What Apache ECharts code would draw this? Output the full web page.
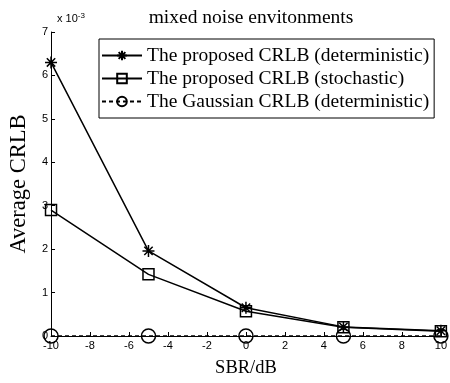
<!DOCTYPE html>
<html>
<head>
<meta charset="utf-8">
<script src="https://cdn.jsdelivr.net/npm/echarts@6/dist/echarts.min.js"></script>
<style>html,body{margin:0;padding:0;background:#fff;}#c{width:450px;height:383px;}</style>
</head>
<body>
<div id="c"></div>
<script>
// SBR in dB
const sbr = [-10, -5, 0, 5, 10];
// Average CRLB values, in units of 1e-3
const proposedDet = [6.3, 1.96, 0.65, 0.21, 0.12];
const proposedSto = [2.9, 1.42, 0.57, 0.20, 0.11];
const gaussianDet = [0.0, 0.0, 0.0, 0.0, 0.0];
const seriesNames = [
  'The proposed CRLB (deterministic)',
  'The proposed CRLB (stochastic)',
  'The Gaussian CRLB (deterministic)'
];
const xTicks = [-10, -8, -6, -4, -2, 0, 2, 4, 6, 8, 10];
const yTicks = [0, 1, 2, 3, 4, 5, 6, 7];

const pair = (ys) => sbr.map((x, i) => [x, ys[i]]);
const star = 'path://M0,-6L0,6M-6,0L6,0M-4.2,-4.2L4.2,4.2M-4.2,4.2L4.2,-4.2';
const serif = '"Liberation Serif","Times New Roman",serif';
const sans = '"Liberation Sans",Arial,sans-serif';

const chart = echarts.init(document.getElementById('c'), null, {renderer: 'canvas'});
chart.setOption({
  animation: false,
  backgroundColor: '#fff',
  title: {
    text: 'mixed noise envitonments',
    left: 246, top: 3, textAlign: 'center',
    textStyle: {fontFamily: serif, fontSize: 19.5, fontWeight: 'normal', color: '#000'}
  },
  graphic: [{
    type: 'text', left: 57, top: 12,
    style: {
      text: 'x 10{s|-3}',
      rich: {s: {fontSize: 8, verticalAlign: 'top', padding: [0,0,6,0]}},
      font: '11px ' + sans, fill: '#000'
    }
  }],
  legend: {
    left: 99, top: 39, width: 340,
    orient: 'vertical',
    itemWidth: 40, itemHeight: 12, itemGap: 0,
    padding: [5, 5, 5, 2],
    borderColor: '#000', borderWidth: 1,
    backgroundColor: '#fff',
    textStyle: {fontFamily: serif, fontSize: 19.5, lineHeight: 23, color: '#000'},
    data: seriesNames
  },
  grid: {left: 49, right: 6, top: 32, bottom: 40},
  xAxis: {
    type: 'value', min: -10, max: 10, interval: 2,
    name: 'SBR/dB', nameLocation: 'middle', nameGap: 23,
    nameTextStyle: {fontFamily: serif, fontSize: 18.5, color: '#000'},
    axisLine: {onZero: false, lineStyle: {color: '#000', width: 1}},
    axisTick: {inside: true, length: 4, lineStyle: {color: '#000'}},
    axisLabel: {fontFamily: sans, fontSize: 11, color: '#000', margin: 4,
      formatter: v => xTicks.includes(v) ? String(v) : ''},
    splitLine: {show: false}
  },
  yAxis: {
    type: 'value', min: 0, max: 7, interval: 1,
    name: 'Average CRLB', nameLocation: 'middle', nameGap: 17,
    nameTextStyle: {fontFamily: serif, fontSize: 22.5, color: '#000'},
    axisLine: {show: true, onZero: false, lineStyle: {color: '#000', width: 1}},
    axisTick: {show: true, inside: true, length: 4, lineStyle: {color: '#000'}},
    axisLabel: {fontFamily: sans, fontSize: 11, color: '#000', margin: 3,
      formatter: v => yTicks.includes(v) ? String(v) : ''},
    splitLine: {show: false}
  },
  series: [
    {
      name: seriesNames[0], type: 'line', data: pair(proposedDet),
      symbol: star, symbolSize: 12,
      lineStyle: {color: '#000', width: 1.5},
      itemStyle: {color: 'none', borderColor: '#000', borderWidth: 1.5}
    },
    {
      name: seriesNames[1], type: 'line', data: pair(proposedSto),
      symbol: 'rect', symbolSize: 11,
      lineStyle: {color: '#000', width: 1.5},
      itemStyle: {color: 'none', borderColor: '#000', borderWidth: 1.5}
    },
    {
      name: seriesNames[2], type: 'line', data: pair(gaussianDet),
      symbol: 'circle', symbolSize: 14,
      lineStyle: {color: '#000', width: 1.5, type: [4, 3]},
      itemStyle: {color: 'none', borderColor: '#000', borderWidth: 1.5}
    }
  ]
});
</script>
</body>
</html>
